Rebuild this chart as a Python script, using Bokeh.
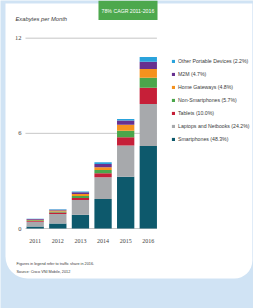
from bokeh.plotting import figure
from bokeh.models import (Label, Legend, LegendItem, BoxAnnotation, Range1d, ColumnDataSource)
from bokeh.embed import file_html
from bokeh.resources import INLINE

years = [2011, 2012, 2013, 2014, 2015, 2016]
year_labels = [str(y) for y in years]
categories = ["Smartphones", "Laptops and Netbooks", "Tablets", "Non-Smartphones",
              "Home Gateways", "M2M", "Other Portable Devices"]
shares_2016 = ["48.3%", "24.2%", "10.0%", "5.7%", "4.8%", "4.7%", "2.2%"]
smartphones = [0.13, 0.32, 0.86, 1.86, 3.27, 5.20]
laptops = [0.30, 0.59, 0.93, 1.37, 1.96, 2.65]
tablets = [0.05, 0.10, 0.13, 0.25, 0.53, 1.03]
non_smartphones = [0.04, 0.06, 0.13, 0.21, 0.40, 0.62]
home_gateways = [0.03, 0.06, 0.13, 0.17, 0.38, 0.55]
m2m = [0.05, 0.06, 0.10, 0.21, 0.27, 0.47]
other_portable = [0.02, 0.03, 0.06, 0.10, 0.10, 0.30]
y_ticks = [0, 6, 12]
y_tick_labels = ["0", "6", "12"]

colors = ["#0d596c", "#a7a9ac", "#c61f38", "#4ba64b", "#f5921e", "#67308f", "#2aa3dc"]
series = [smartphones, laptops, tablets, non_smartphones, home_gateways, m2m, other_portable]
keys = ["s%d" % i for i in range(len(series))]

data = {"year": years}
for k, s in zip(keys, series):
    data[k] = s
src = ColumnDataSource(data)

FONT = "Liberation Sans"
TXT = "#3a3a3a"

p = figure(width=253, height=308, output_backend="svg", toolbar_location=None,
           x_range=Range1d(2009.466, 2020.651), y_range=Range1d(-5.044, 14.376),
           x_axis_location=None, y_axis_location=None,
           min_border_left=0, min_border_right=0, min_border_top=0, min_border_bottom=0,
           background_fill_color="#d0e3f4", border_fill_color="#d0e3f4", outline_line_color=None)
p.xgrid.visible = False
p.ygrid.visible = False

# white card
p.add_layout(BoxAnnotation(left=2009.687, right=2020.60, bottom=-3.153, top=14.187,
                           fill_color="white", fill_alpha=1, line_color=None,
                           border_radius=dict(top_left=0, top_right=0,
                                              bottom_right=18, bottom_left=22),
                           level="underlay"))

# gridlines (behind bars)
bar_w = 0.765
gx0 = [2010.571] * len(y_ticks)
gx1 = [years[-1] + bar_w / 2] * len(y_ticks)
p.segment(x0=gx0, y0=y_ticks, x1=gx1, y1=y_ticks, line_color="#b8b8b8", line_width=0.8)

rs = p.vbar_stack(keys, x="year", width=bar_w, source=src, color=colors, line_color=None)

# tick labels drawn through the data scales
p.text(x=[2010.394] * len(y_ticks), y=y_ticks, text=y_tick_labels, text_font=FONT,
       text_font_size="6.5px", text_color="#444444", text_align="right", text_baseline="middle")
p.text(x=years, y=[-0.757] * len(years), text=year_labels, text_font=FONT,
       text_font_size="6px", text_color="#444444", text_align="center", text_baseline="middle")

items = [LegendItem(label="%s (%s)" % (c, s), renderers=[r])
         for c, s, r in zip(categories, shares_2016, rs)]
items.reverse()
legend = Legend(items=items, location=(171, 164), orientation="vertical",
                glyph_width=4, glyph_height=4, label_standoff=3, label_height=10, spacing=3,
                padding=0, margin=0, border_line_color=None, background_fill_alpha=0,
                label_text_font=FONT, label_text_font_size="5.2px", label_text_color=TXT)
p.add_layout(legend)

# title / badge / notes
p.add_layout(Label(x=2010.129, y=13.24, text="Exabytes per Month", text_font=FONT,
                   text_font_style="italic", text_font_size="5.8px", text_color=TXT,
                   text_baseline="middle", text_align="left"))
p.add_layout(BoxAnnotation(left=2013.798, right=2016.407, bottom=13.146, top=14.376,
                           fill_color="#4da84d", fill_alpha=1, line_color=None))
p.add_layout(Label(x=2015.10, y=13.745, text="78% CAGR 2011-2016", text_font=FONT,
                   text_font_size="5.2px", text_color="white",
                   text_baseline="middle", text_align="center"))
p.add_layout(Label(x=2010.173, y=-2.207, text="Figures in legend refer to traffic share in 2016.",
                   text_font=FONT, text_font_size="3.8px", text_color=TXT,
                   text_baseline="middle", text_align="left"))
p.add_layout(Label(x=2010.173, y=-2.774, text="Source: Cisco VNI Mobile, 2012",
                   text_font=FONT, text_font_size="3.8px", text_color=TXT,
                   text_baseline="middle", text_align="left"))

open("out.html", "w").write(file_html(p, INLINE))
